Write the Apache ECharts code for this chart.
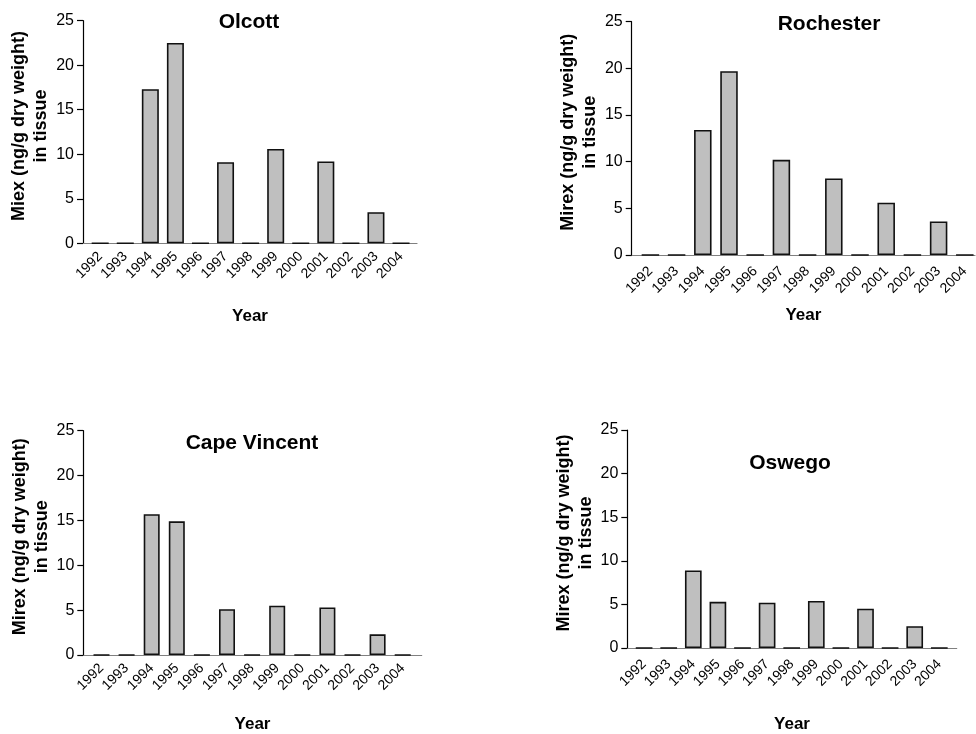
<!DOCTYPE html>
<html>
<head>
<meta charset="utf-8">
<script src="https://cdn.jsdelivr.net/npm/echarts@6/dist/echarts.min.js"></script>
<style>
html,body{margin:0;padding:0;background:#fff;}
#chart{width:976px;height:734px;}
</style>
</head>
<body>
<div id="chart"></div>
<script>
// ---- data ----
const years = ['1992','1993','1994','1995','1996','1997','1998','1999','2000','2001','2002','2003','2004'];
const olcott      = [0, 0, 17.3, 22.5, 0, 9.1, 0, 10.6, 0, 9.2, 0, 3.5, 0];
const rochester   = [0, 0, 13.4, 19.7, 0, 10.2, 0, 8.2, 0, 5.6, 0, 3.6, 0];
const capeVincent = [0, 0, 15.7, 14.9, 0, 5.1, 0, 5.5, 0, 5.3, 0, 2.3, 0];
const oswego      = [0, 0, 8.9, 5.3, 0, 5.2, 0, 5.4, 0, 4.5, 0, 2.5, 0];
const panelTitles = ['Olcott', 'Rochester', 'Cape Vincent', 'Oswego'];
const yNames = ['Miex (ng/g dry weight)\nin tissue', 'Mirex (ng/g dry weight)\nin tissue', 'Mirex (ng/g dry weight)\nin tissue', 'Mirex (ng/g dry weight)\nin tissue'];
const xName = 'Year';
const yMin = 0, yMax = 25, yStep = 5;

// ---- layout (pixels) ----
const panels = [
  {left: 83,    right: 417,   top: 20.7,  bottom: 243.3, c0: 100.2, band: 25.07, bw: 17,   tx: 249, ty: 12,  xGap: 65, yGap: 27, lm: 11},
  {left: 631.7, right: 975,   top: 21.7,  bottom: 255,   c0: 650.4, band: 26.2,  bw: 17.5, tx: 829, ty: 14,  xGap: 52, yGap: 31, lm: 14},
  {left: 83.3,  right: 421.7, top: 430.7, bottom: 655.7, c0: 101.5, band: 25.1,  bw: 16,   tx: 252, ty: 433, xGap: 61, yGap: 25, lm: 11},
  {left: 627.3, right: 956.7, top: 430,   bottom: 649,   c0: 644.1, band: 24.6,  bw: 16.7, tx: 790, ty: 453, xGap: 68, yGap: 27, lm: 14}
];
const seriesData = [olcott, rochester, capeVincent, oswego];

const FONT = '"Liberation Sans", Arial, Helvetica, sans-serif';
const chart = echarts.init(document.getElementById('chart'), null, {renderer: 'canvas'});

const option = {
  backgroundColor: '#ffffff',
  animation: false,
  title: panels.map((p, i) => ({
    text: panelTitles[i],
    left: p.tx, top: p.ty, textAlign: 'center', padding: 0,
    textStyle: {fontFamily: FONT, fontSize: 21, fontWeight: 'bold', color: '#000'}
  })),
  grid: panels.map(p => ({
    left: p.left, top: p.top, width: p.right - p.left, height: p.bottom - p.top, containLabel: false
  })),
  xAxis: panels.map((p, i) => ({
    type: 'value', gridIndex: i,
    min: +((p.left - p.c0) / p.band).toFixed(3),
    max: +((p.right - p.c0) / p.band).toFixed(3),
    name: xName, nameLocation: 'middle', nameGap: p.xGap,
    nameTextStyle: {fontFamily: FONT, fontSize: 17, fontWeight: 'bold', color: '#000'},
    axisLine: {show: true, onZero: false, lineStyle: {color: '#808080', width: 1.2}},
    axisTick: {show: false},
    splitLine: {show: false},
    axisLabel: {
      customValues: years.map((_, k) => k),
      formatter: v => years[Math.round(v)] || '',
      rotate: 45, margin: p.lm, fontFamily: FONT, fontSize: 14, color: '#000'
    }
  })),
  yAxis: panels.map((p, i) => ({
    type: 'value', gridIndex: i, min: yMin, max: yMax, interval: yStep,
    name: yNames[i], nameLocation: 'middle', nameGap: p.yGap,
    nameTextStyle: {fontFamily: FONT, fontSize: 18, fontWeight: 'bold', color: '#000', lineHeight: 22, padding: [0, 0, 0, 12]},
    axisLine: {show: true, onZero: false, lineStyle: {color: '#000', width: 1.2}},
    axisTick: {show: true, length: 6, lineStyle: {color: '#000', width: 1.2}},
    splitLine: {show: false},
    axisLabel: {fontFamily: FONT, fontSize: 16, color: '#000', margin: 9}
  })),
  series: panels.map((p, i) => ({
    type: 'bar', xAxisIndex: i, yAxisIndex: i,
    data: seriesData[i].map((v, k) => [k, v]),
    barWidth: p.bw,
    itemStyle: {color: '#bfbfbf', borderColor: '#111', borderWidth: 1.6},
    emphasis: {disabled: true}
  }))
};
chart.setOption(option);
</script>
</body>
</html>
